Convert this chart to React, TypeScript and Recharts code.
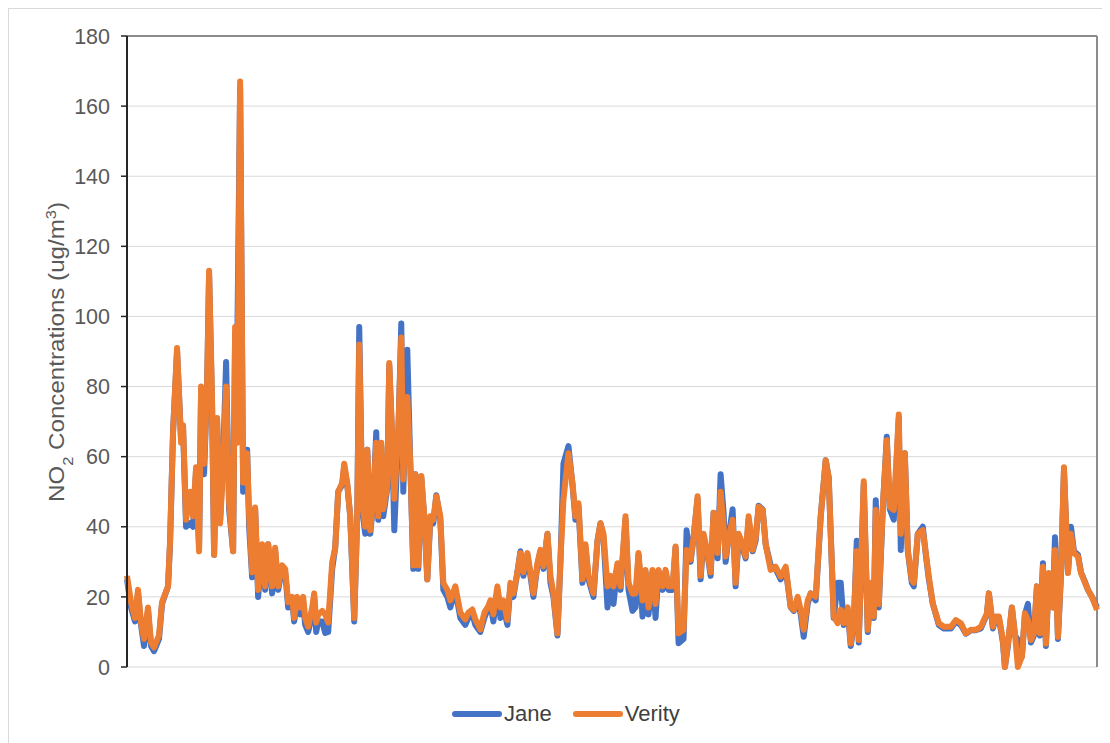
import React from "react";
import { LineChart, Line, XAxis, YAxis, CartesianGrid, Legend, ReferenceLine } from "recharts";

// sample position along the monitoring period (no labels shown on the x axis)
const t = [
  0, 4, 8, 11, 14, 17, 21, 24, 27, 32, 35, 41, 43, 46, 50, 54, 56, 59, 63, 66,
  69, 72, 74, 77, 80, 82, 85, 87, 90, 93, 96, 99, 102, 106, 108, 110, 113, 116, 120, 122,
  125, 128, 131, 135, 138, 141, 145, 148, 151, 155, 158, 161, 165, 167, 170, 173, 176, 178, 181, 185,
  187, 189, 191, 195, 198, 201, 205, 208, 211, 215, 217, 220, 223, 227, 230, 232, 235, 238, 240, 243,
  246, 249, 251, 254, 256, 260, 262, 265, 267, 271, 274, 276, 280, 283, 286, 288, 291, 294, 297, 300,
  303, 306, 309, 313, 316, 320, 323, 328, 333, 338, 341, 345, 348, 353, 357, 361, 363, 366, 370, 373,
  376, 380, 383, 386, 390, 393, 396, 400, 403, 406, 410, 413, 416, 420, 423, 426, 430, 433, 436, 441,
  445, 448, 451, 455, 458, 461, 466, 470, 473, 476, 480, 483, 486, 490, 493, 498, 501, 505, 508, 511,
  515, 518, 521, 525, 528, 531, 535, 538, 541, 545, 548, 551, 556, 559, 563, 566, 570, 573, 576, 580,
  583, 586, 590, 593, 596, 598, 601, 605, 608, 611, 615, 618, 621, 625, 628, 631, 635, 638, 643, 648,
  653, 658, 663, 666, 670, 673, 676, 680, 683, 688, 693, 698, 701, 706, 710, 713, 716, 720, 723, 726,
  729, 731, 736, 740, 743, 746, 748, 751, 755, 759, 762, 766, 771, 773, 777, 780, 784, 786, 790, 795,
  798, 801, 805, 808, 811, 816, 823, 828, 833, 838, 843, 848, 853, 856, 859, 861, 865, 868, 871, 875,
  877, 880, 884, 887, 890, 894, 897, 900, 903, 906, 909, 912, 915, 918, 921, 925, 927, 930, 933, 936,
  940, 943, 946, 950, 953, 956, 960, 964, 969,
];

const verity = [
  26, 18.5, 14, 22, 12.7, 8, 17, 7, 5.6, 9, 18.5, 23, 36, 67, 91, 64, 69, 42, 50, 43,
  57, 33, 80, 58, 80, 113, 76, 32, 71, 41, 57, 80, 47, 33, 97, 64, 167, 52.6, 61, 43,
  27, 45.5, 22, 35, 23, 35, 23, 34, 23, 29, 28, 18.5, 20, 14, 20, 17, 20, 14, 11.5, 17,
  21, 12.7, 15, 16, 15, 12.7, 30, 34, 50, 52.6, 58, 52.6, 43, 14, 43, 92, 47, 40, 62, 39,
  48, 64, 43, 64, 45, 51.5, 86.7, 65, 48, 67, 94, 53.5, 77, 58, 29, 55, 29, 54.5, 43, 25,
  43, 42, 48.7, 43, 24, 22, 19, 23, 15.5, 13.6, 15.5, 16.4, 13.6, 10.7, 15.5, 17.4, 19, 15, 23, 17,
  19, 13.4, 24, 21, 27, 32.5, 27, 32.5, 27, 21, 29.6, 33.4, 28.7, 38, 26, 21, 9.6, 30.6, 47.7, 61,
  52.5, 43, 46.7, 25, 35, 26, 21, 36, 41, 38, 23, 26, 23, 29.6, 23, 43, 24, 21, 21, 32.5,
  19, 27.7, 17, 27.7, 18, 27.7, 23, 27.7, 23, 23, 34.4, 9.6, 10.6, 33.4, 30.6, 37, 48.7, 26, 38, 32.5,
  27, 44, 32.5, 50, 40, 31.5, 37, 42, 24, 38, 35, 31.5, 43, 33.4, 37, 45.7, 44.8, 35, 27.7, 28.6,
  25.8, 28.6, 17.2, 16.3, 20, 16.3, 10.6, 19, 21, 20, 43, 59, 54, 14.4, 12.5, 16.3, 12.5, 17, 6.7, 12.5,
  33, 7.7, 53, 10.6, 24, 14.4, 44.8, 18, 45.7, 64.7, 45.7, 44.8, 72, 38, 61, 33.4, 24.8, 24, 38, 39,
  32.4, 25.8, 18, 15.3, 12.5, 11.5, 11.5, 13.4, 12.5, 9.6, 10.6, 10.6, 11.5, 13.4, 15.3, 21, 11.5, 14.4, 14.4, 7.7,
  0, 6.7, 17, 9.6, 0, 3, 15.3, 13.4, 7.7, 9.6, 23, 9.6, 28.6, 6.7, 26.8, 17, 33.4, 8.6, 26.8, 57,
  26.8, 38, 32.5, 31.5, 26.8, 24.8, 22, 20, 16.3,
];

const jane = [
  25, 17, 13, 21, 12, 6, 16, 6, 4.5, 8, 18, 23, 35, 67, 90, 65, 68, 40, 41, 40,
  56, 34, 78, 55, 80, 112, 74, 32, 70, 42, 59, 87, 45, 33, 95, 88, 165, 50, 62, 40,
  25.6, 45, 20, 34, 22, 35, 21, 33, 22, 28, 27, 17, 19, 13, 19, 15, 18, 12, 10, 15,
  20, 10, 13, 13, 9.7, 10, 28, 34, 50, 52, 57, 52, 43, 13, 43, 97, 45, 38, 62, 38,
  47, 67, 42, 63, 43, 51, 86, 64, 39, 66, 98, 50, 90.5, 58, 28, 55, 28, 54, 42, 25,
  42, 41, 49, 42, 22, 20, 17, 22, 14, 12, 14, 15, 12, 10, 14, 17, 18, 13, 22, 14,
  17, 12, 23, 20, 27, 33, 26, 32, 26, 20, 29, 33, 28, 38, 24, 20, 9, 30, 58, 63,
  52, 42, 46, 24, 34, 25, 20, 36, 41, 37, 17, 25, 18, 29, 22, 42, 22, 16, 17, 32,
  14.4, 27, 15, 27, 14, 27, 22, 27, 22, 22, 34, 6.8, 8, 39, 30, 37, 48, 25, 37, 32,
  26, 44, 31, 55, 44, 30, 37, 45, 23, 37, 34, 31, 42, 33, 36, 46, 45, 35, 29, 28,
  25, 28, 17, 16, 19, 15, 8.6, 18, 21, 19, 43, 59, 54, 14, 24, 24, 12, 16, 6, 12,
  36, 7, 52, 10, 23, 14, 47.6, 17, 45, 65.7, 45, 42, 71, 33.4, 61, 33, 24, 23, 38, 40,
  32, 25, 18, 15, 12, 11, 11, 13, 12, 9.5, 10.5, 10.5, 11, 13, 15, 21, 11, 14, 14, 7,
  0, 6, 17, 9, 7.7, 3, 15, 18, 7, 9, 23, 9, 29.6, 6, 26, 17, 37, 8, 26, 56,
  27, 40, 33, 32, 27, 25, 22, 20, 17,
];

const yTicks = [0, 20, 40, 60, 80, 100, 120, 140, 160, 180];

const data = t.map((v, i) => ({ t: v, jane: jane[i], verity: verity[i] }));

const BLUE = "#4472C4";
const ORANGE = "#ED7D31";
const FONT = "'Liberation Sans', Arial, sans-serif";

function YLabel() {
  return (
    <text
      x={55}
      y={343}
      transform="rotate(-90, 55, 343)"
      textAnchor="middle"
      fontSize={22}
      fill="#595959"
      fontFamily={FONT}
      textLength={300}
      lengthAdjust="spacingAndGlyphs"
    >
      NO<tspan baselineShift="sub" fontSize={15}>2</tspan> Concentrations (ug/m
      <tspan baselineShift="super" fontSize={15}>3</tspan>)
    </text>
  );
}

function LegendBox() {
  const item = (color: string, name: string) => (
    <div style={{ display: "flex", alignItems: "center" }}>
      <span style={{ display: "inline-block", width: 50, height: 6, borderRadius: 3, background: color }} />
      <span style={{ marginLeft: 2, fontSize: 22, color: "#404040", fontFamily: FONT }}>{name}</span>
    </div>
  );
  return (
    <div style={{ display: "flex", alignItems: "center", gap: 21, height: 30 }}>
      {item(BLUE, "Jane")}
      {item(ORANGE, "Verity")}
    </div>
  );
}

export default function App() {
  return (
    <div style={{ width: 1094, height: 735, border: "1px solid #d9d9d9", background: "#fff" }}>
      <LineChart width={1094} height={735} data={data} margin={{ top: 27, right: 6, left: 58, bottom: 47 }}>
        <CartesianGrid vertical={false} stroke="#d9d9d9" strokeWidth={1} />
        <XAxis
          dataKey="t"
          type="number"
          domain={[0, 969]}
          tick={false}
          tickLine={false}
          height={0}
          axisLine={{ stroke: "#7f7f7f", strokeWidth: 2 }}
        />
        <YAxis
          domain={[0, 180]}
          ticks={yTicks}
          width={60}
          tickSize={6}
          tickMargin={11}
          interval={0}
          axisLine={{ stroke: "#262626", strokeWidth: 2 }}
          tickLine={{ stroke: "#262626", strokeWidth: 1.5 }}
          tick={{ fontSize: 21.5, fill: "#595959", fontFamily: FONT }}
          label={{ content: () => <YLabel /> }}
        />
        <ReferenceLine y={180} stroke="#8c8c8c" strokeWidth={2} />
        <ReferenceLine x={969} stroke="#8c8c8c" strokeWidth={2} />
        <Legend
          verticalAlign="bottom"
          content={() => <LegendBox />}
          wrapperStyle={{ top: 690, bottom: "auto", left: 443, width: 320, height: 30 }}
        />
        <Line
          type="linear"
          dataKey="jane"
          name="Jane"
          stroke={BLUE}
          strokeWidth={6}
          dot={false}
          strokeLinejoin="round"
          isAnimationActive={false}
        />
        <Line
          type="linear"
          dataKey="verity"
          name="Verity"
          stroke={ORANGE}
          strokeWidth={6}
          dot={false}
          strokeLinejoin="round"
          isAnimationActive={false}
        />
      </LineChart>
    </div>
  );
}
